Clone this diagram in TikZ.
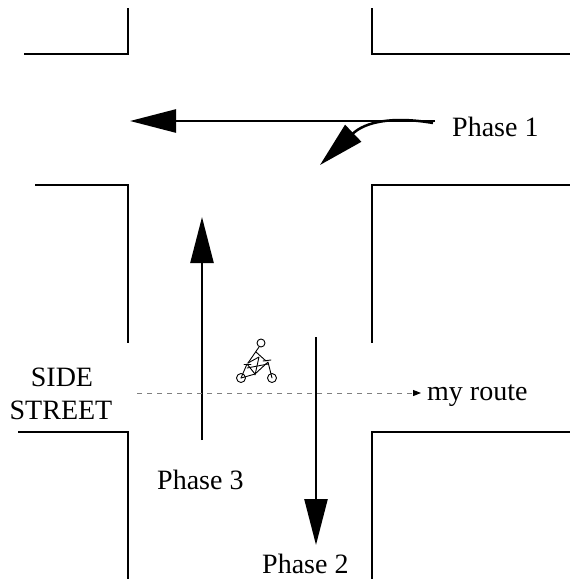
\documentclass[tikz,border=0pt]{standalone}
\usepackage{fontspec}
\setmainfont{Liberation Serif}
\usetikzlibrary{arrows.meta}

\begin{document}
\begin{tikzpicture}[x=1pt,y=-1pt,
    kerb/.style={line width=2.5pt},
    phase/.style={line width=2.5pt,-{Triangle[length=46pt,width=23pt]}},
    myroute/.style={gray,line width=1pt,dash pattern=on 5pt off 5pt,
      -{Triangle[length=8pt,width=6pt,color=black]}},
    txt/.style={font=\fontsize{28}{32}\selectfont,inner sep=0pt},
    bike/.style={line width=0.9pt,line cap=round,line join=round}]
  \useasboundingbox (0,0) rectangle (570,579);

  % kerb lines of the crossroads
  \draw[kerb] (24,54) -- (128,54) -- (128,8);
  \draw[kerb] (570,54) -- (372,54) -- (372,8);
  \draw[kerb] (35,185) -- (128,185) -- (128,343);
  \draw[kerb] (570,185) -- (372,185) -- (372,343);
  \draw[kerb] (18,432) -- (128,432) -- (128,579);
  \draw[kerb] (570,432) -- (372,432) -- (372,579);

  % end points of the phase arrows
  \coordinate (p1from) at (435,121);
  \coordinate (p1to) at (130,121);
  \coordinate (p1turn) at (433,123);
  \coordinate (p1left) at (320,165);
  \coordinate (p3from) at (202,440);
  \coordinate (p3to) at (202,217);
  \coordinate (p2from) at (316,337);
  \coordinate (p2to) at (316,545);
  \coordinate (rfrom) at (137,393);
  \coordinate (rto) at (421,393);

  % phase arrows
  \draw[phase] (p1from) -- (p1to);
  \draw[phase] (p1turn) .. controls (392,116) and (365,122) .. (p1left);
  \draw[phase] (p3from) -- (p3to);
  \draw[phase] (p2from) -- (p2to);

  % the route across
  \draw[myroute] (rfrom) -- (rto);

  % labels
  \node[txt,anchor=base west] (phase1) at (452,136) {Phase 1};
  \node[txt,anchor=base west] (phase3) at (157,489) {Phase 3};
  \node[txt,anchor=base west] (phase2) at (262,573) {Phase 2};
  \node[txt,anchor=base west] (route) at (427,400) {my route};
  \node[txt,anchor=base] (side) at (62,386) {SIDE};
  \node[txt,anchor=base] (street) at (61,419) {STREET};

  % cyclist
  \begin{scope}[bike]
    \draw (261,343) circle (4);
    \draw (241,378) circle (4.5);
    \draw (272,378) circle (4.5);
    \draw (259,347) -- (248,363);
    \draw (256,352) -- (266,361);
    \draw (248,363) -- (259,357) -- (255,375);
    \draw (241,378) -- (247,364) -- (255,374) -- (268,362) -- (272,378);
    \draw (247,368) -- (268,364);
    \draw (241,378) -- (255,374);
    \draw (244,364) -- (251,364);
    \draw (263,361) -- (271,360);
  \end{scope}
\end{tikzpicture}
\end{document}
